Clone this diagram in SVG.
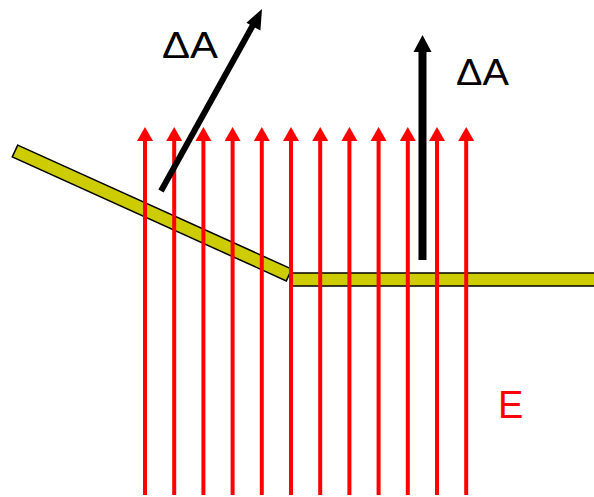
<svg xmlns="http://www.w3.org/2000/svg" width="594" height="497" viewBox="0 0 594 497">
<defs>
<style>
.field{stroke:#ff0000;stroke-width:4;fill:none}
.ah{fill:#ff0000}
.plate{fill:#cccc00;stroke:#000;stroke-width:1.5}
.vec{stroke:#000;stroke-width:6;fill:none}
.lbl{font-family:"Liberation Sans",Arial,sans-serif;font-size:37px;fill:#000}
</style>
</defs>
<rect width="594" height="497" fill="#fff"/>
<g id="plate">
<polygon class="plate" points="17.7,145.1 291.7,269.1 286.3,280.9 12.3,156.9"/>
<rect class="plate" x="290" y="273" width="310" height="13"/>
</g>
<g id="field-lines">
<g id="E1"><line class="field" x1="145" y1="495" x2="145" y2="138"/><path class="ah" d="M145 127 L153 141 L137 141 Z"/></g>
<g id="E2"><line class="field" x1="174.2" y1="495" x2="174.2" y2="138"/><path class="ah" d="M174.2 127 L182.2 141 L166.2 141 Z"/></g>
<g id="E3"><line class="field" x1="203.4" y1="495" x2="203.4" y2="138"/><path class="ah" d="M203.4 127 L211.4 141 L195.4 141 Z"/></g>
<g id="E4"><line class="field" x1="232.6" y1="495" x2="232.6" y2="138"/><path class="ah" d="M232.6 127 L240.6 141 L224.6 141 Z"/></g>
<g id="E5"><line class="field" x1="261.8" y1="495" x2="261.8" y2="138"/><path class="ah" d="M261.8 127 L269.8 141 L253.8 141 Z"/></g>
<g id="E6"><line class="field" x1="291" y1="495" x2="291" y2="138"/><path class="ah" d="M291 127 L299 141 L283 141 Z"/></g>
<g id="E7"><line class="field" x1="320.2" y1="495" x2="320.2" y2="138"/><path class="ah" d="M320.2 127 L328.2 141 L312.2 141 Z"/></g>
<g id="E8"><line class="field" x1="349.4" y1="495" x2="349.4" y2="138"/><path class="ah" d="M349.4 127 L357.4 141 L341.4 141 Z"/></g>
<g id="E9"><line class="field" x1="378.6" y1="495" x2="378.6" y2="138"/><path class="ah" d="M378.6 127 L386.6 141 L370.6 141 Z"/></g>
<g id="E10"><line class="field" x1="407.8" y1="495" x2="407.8" y2="138"/><path class="ah" d="M407.8 127 L415.8 141 L399.8 141 Z"/></g>
<g id="E11"><line class="field" x1="437" y1="495" x2="437" y2="138"/><path class="ah" d="M437 127 L445 141 L429 141 Z"/></g>
<g id="E12"><line class="field" x1="466.2" y1="495" x2="466.2" y2="138"/><path class="ah" d="M466.2 127 L474.2 141 L458.2 141 Z"/></g>
</g>
<g id="dA1">
<line class="vec" x1="161" y1="191" x2="253" y2="25"/>
<path d="M262 9 L260.4 30.5 L246.4 22.7 Z" fill="#000"/>
<text class="lbl" x="162" y="58" textLength="56" lengthAdjust="spacingAndGlyphs">ΔA</text>
</g>
<g id="dA2">
<line class="vec" x1="422.5" y1="260" x2="422.5" y2="48" style="stroke-width:8"/>
<path d="M422.5 35 L431.5 52 L413.5 52 Z" fill="#000"/>
<text class="lbl" x="456" y="84.5" textLength="53" lengthAdjust="spacingAndGlyphs">ΔA</text>
</g>
<g id="E-label">
<text x="498" y="418" style="font-family:'Liberation Sans',Arial,sans-serif;font-size:38px;fill:#ff0000">E</text>
</g>
</svg>
